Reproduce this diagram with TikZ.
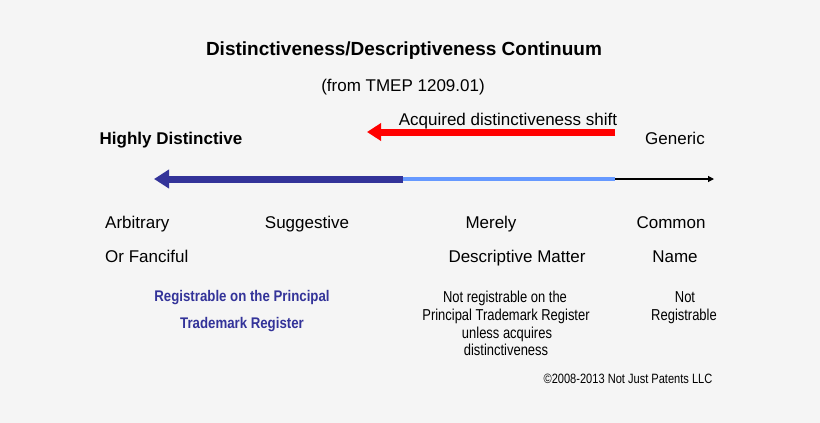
\documentclass[tikz,border=0pt]{standalone}
\usepackage{fontspec}
\setmainfont{Liberation Sans}
\newfontfamily\narrowfont[FakeStretch=0.82]{Liberation Sans}
\newfontfamily\narrowbold[FakeStretch=0.86]{Liberation Sans Bold}
\usetikzlibrary{arrows.meta}
\definecolor{bg}{RGB}{245,245,245}
\definecolor{dblue}{RGB}{51,51,153}
\definecolor{lblue}{RGB}{102,153,255}
\definecolor{rred}{RGB}{255,0,0}
\begin{document}
\begin{tikzpicture}[x=1pt,y=-1pt,
  lbl/.style={inner sep=0pt,anchor=base},
  big/.style={lbl,font=\fontsize{17}{20}\selectfont},
  small/.style={lbl,font=\narrowfont\fontsize{15.8}{18}\selectfont},
  bluetxt/.style={lbl,font=\narrowbold\fontsize{15.4}{18}\selectfont,text=dblue}]
\fill[bg] (0,0) rectangle (820,423);
\useasboundingbox (0,0) rectangle (820,423);
\node[lbl,font=\bfseries\fontsize{19}{22}\selectfont] (title) at (404,56) {Distinctiveness/Descriptiveness Continuum};
\node[big] (from) at (403,91) {(from TMEP 1209.01)};
\node[big] (acq) at (508,125) {Acquired distinctiveness shift};
\node[lbl,font=\bfseries\fontsize{17}{20}\selectfont] (hd) at (171,144) {Highly Distinctive};
\node[big] (gen) at (675,144) {Generic};
% red arrow
\coordinate (rs) at (615,132);
\coordinate (re) at (367,132);
\draw[rred,line width=7pt,-{Triangle[length=14pt,width=17pt]}] (rs) -- (re);
% continuum
\coordinate (c1) at (154,179);
\coordinate (c2) at (403,179);
\coordinate (c3) at (615,179);
\coordinate (c4) at (714,179);
\draw[lblue,line width=4pt] (c2) -- (c3);
\draw[black,line width=1.2pt,-{Triangle[length=6pt,width=6pt]}] (c3) -- (c4);
\draw[dblue,line width=7pt,-{Triangle[length=15pt,width=18pt]}] (c2) -- (c1);
% categories
\node[big,anchor=base west] (arb) at (105,228) {Arbitrary};
\node[big] (sug) at (307,228) {Suggestive};
\node[big] (mer) at (491,228) {Merely};
\node[big] (com) at (671,228) {Common};
\node[big,anchor=base west] (fan) at (105,262) {Or Fanciful};
\node[big] (desc) at (517,262) {Descriptive Matter};
\node[big] (name) at (675,262) {Name};
\node[bluetxt] (reg1) at (242,301) {Registrable on the Principal};
\node[bluetxt] (reg2) at (242,328) {Trademark Register};
\node[small] (nr1) at (505,302) {Not registrable on the};
\node[small] (nr2) at (506,320) {Principal Trademark Register};
\node[small] (nr3) at (507,338) {unless acquires};
\node[small] (nr4) at (506,355) {distinctiveness};
\node[small] (n1) at (685,302) {Not};
\node[small] (n2) at (684,320) {Registrable};
\node[lbl,font=\narrowfont\fontsize{13.5}{16}\selectfont] (copy) at (628,383) {©2008-2013 Not Just Patents LLC};
\end{tikzpicture}
\end{document}
